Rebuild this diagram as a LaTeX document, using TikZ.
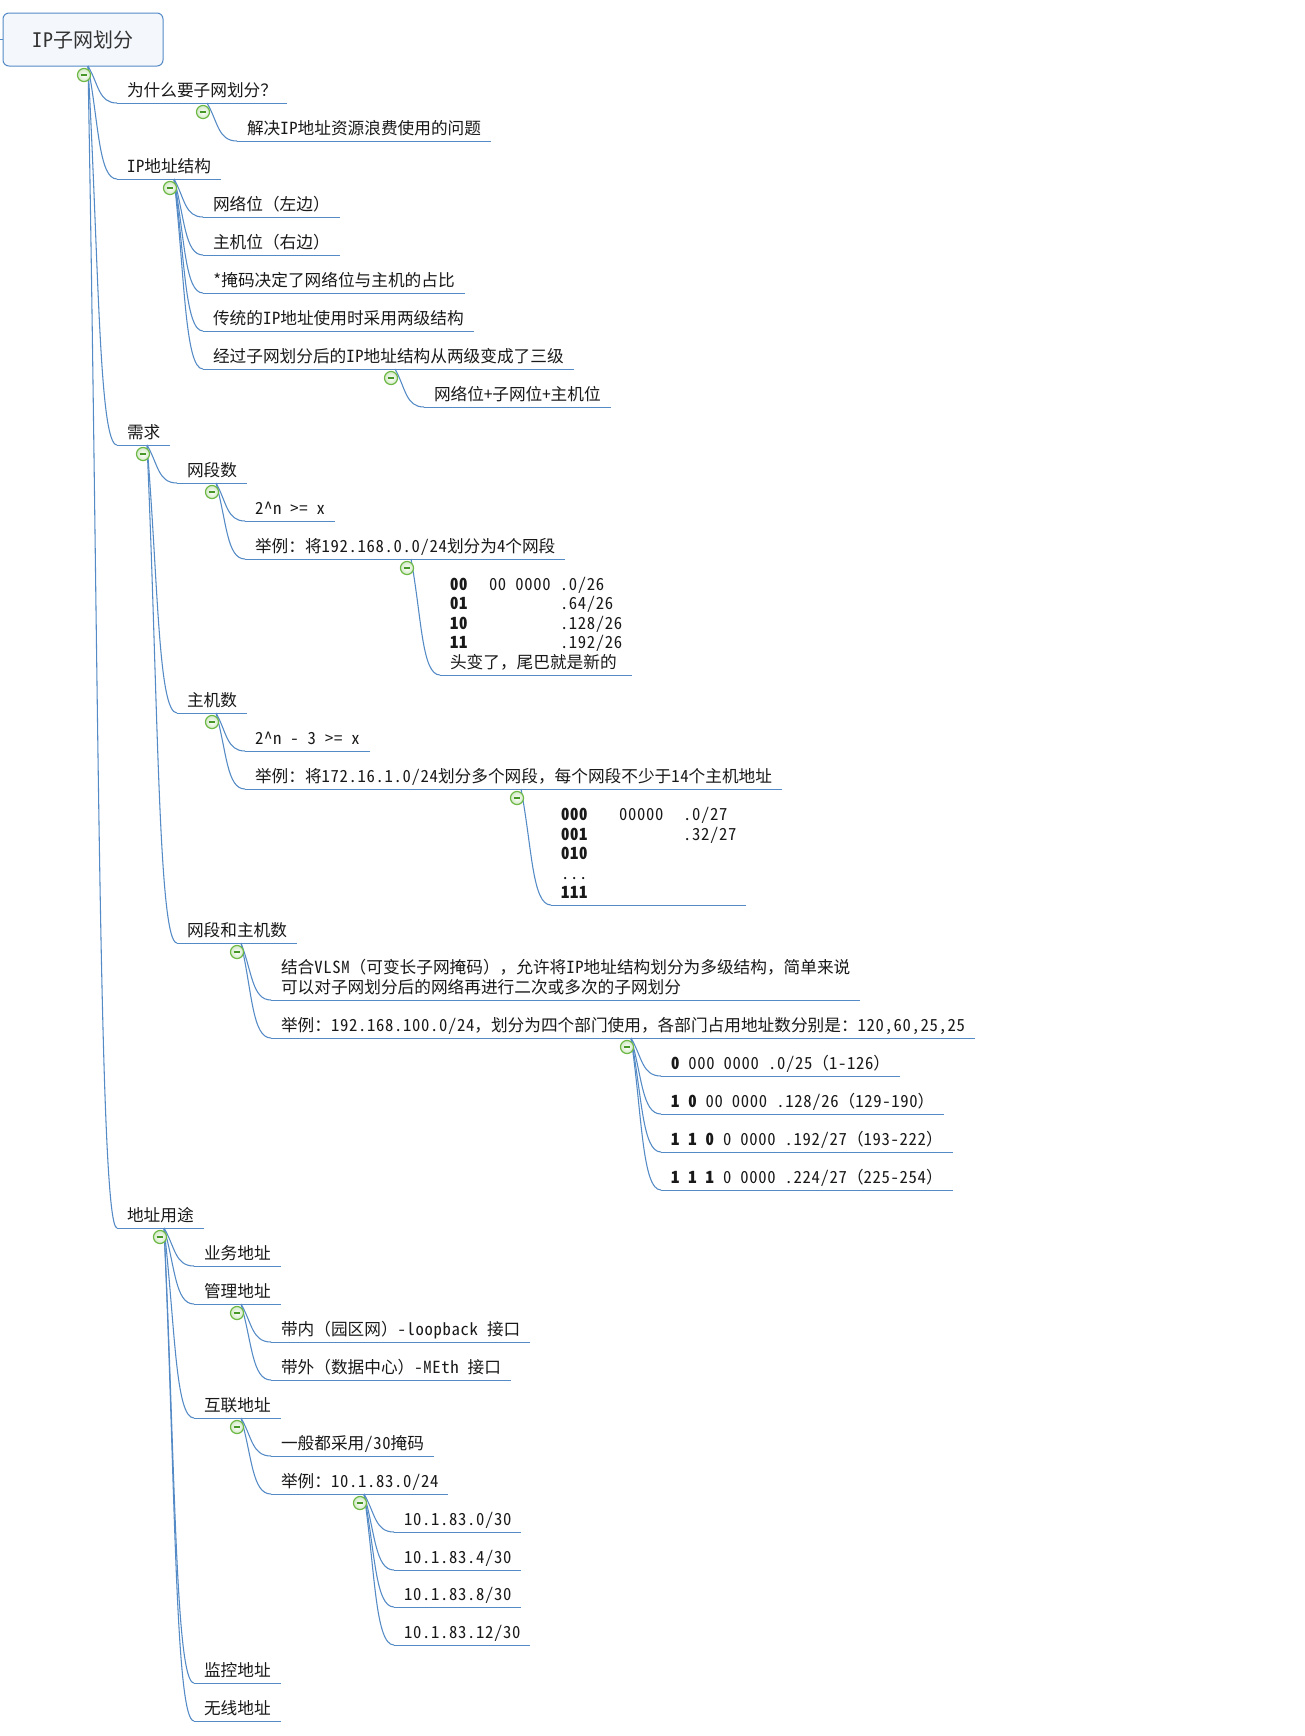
\documentclass[tikz,border=0pt]{standalone}
\usepackage{fontspec}
\setmainfont{Noto Sans CJK SC}[RawFeature=+hwid,LetterSpace=4]
\newfontfamily\latf{Noto Sans CJK SC}[RawFeature=+hwid,LetterSpace=4]
\newfontfamily\cjkf{Noto Sans CJK SC}
\XeTeXinterchartokenstate=1
\newXeTeXintercharclass\cjkcls
\newcount\cjkc
\def\setcjkrange#1#2{\cjkc=#1 \loop\XeTeXcharclass\cjkc=\cjkcls \ifnum\cjkc<#2 \advance\cjkc by 1 \repeat}
\setcjkrange{"3000}{"303F}
\setcjkrange{"4E00}{"9FFF}
\setcjkrange{"FF00}{"FFEF}
\XeTeXinterchartoks 0 \cjkcls = {\cjkf}
\XeTeXinterchartoks 4095 \cjkcls = {\cjkf}
\XeTeXinterchartoks \cjkcls 0 = {\latf}
\XeTeXinterchartoks 4095 0 = {\latf}
\newcommand\hs{\hspace{6.75pt}}
\usetikzlibrary{calc}
\definecolor{lnblue}{RGB}{84,138,198}
\definecolor{ringg}{RGB}{110,185,70}
\definecolor{ming}{RGB}{70,150,40}
\definecolor{rootfill}{RGB}{244,248,253}
\definecolor{txt}{RGB}{25,25,25}
\newcommand\mmnode[4]{%
  \node[tnode] (#1) at ({#2},{#3-6.5}) {#4};
  \coordinate (#1-l) at ({#2},{#3});
  \draw[uline] (#1-l) -- (#1-l -| #1.east);
}
\newcommand\mmconn[2]{%
  \draw[conn] let \p1=(#1), \p2=(#2) in
    (\p1) .. controls ({\x1+0.37*(\x2-\x1)},{0.5*(\y1+\y2)}) and ({\x1+0.37*(\x2-\x1)},\y2) .. (\p2);
}
\newcommand\mmbtn[1]{%
  \coordinate (btn) at ($(#1)+(-4,9)$);
  \draw[cring] (btn) circle (4.9pt);
  \draw[cminus] ($(btn)+(-3.4,0)$) -- ($(btn)+(3.4,0)$);
}
\begin{document}
\begin{tikzpicture}[x=0.75pt,y=-0.75pt,
  tnode/.style={anchor=base west,inner xsep=7.5pt,inner ysep=0pt,outer sep=0pt,text=txt,font=\fontsize{12.5pt}{14.6pt}\selectfont},
  uline/.style={draw=lnblue,line width=0.75pt},
  conn/.style={draw=lnblue,line width=0.8pt},
  rootbox/.style={draw=lnblue,fill=rootfill,rounded corners=4.5pt,minimum width=120pt,minimum height=39.75pt,inner sep=0pt,line width=0.75pt,font=\fontsize{15pt}{18pt}\selectfont,text=black!80},
  cring/.style={draw=ringg,line width=0.9pt,inner color=white,outer color=ringg!30},
  cminus/.style={draw=ming,line width=0.9pt}
]
\fill[white] (0,0) rectangle (1304,1736);
\useasboundingbox (0,0) rectangle (1304,1736);

\node[rootbox] (root) at (83,39.5) {IP子网划分};
\coordinate (lstub) at (0,39.5);
\draw[conn] (lstub) -- (root.west);
\coordinate (o-root) at (88,66);

\mmnode{why}{117}{103}{为什么要子网划分？}
\mmnode{why1}{237}{141}{解决IP地址资源浪费使用的问题}
\mmnode{ips}{117}{179}{IP地址结构}
\mmnode{ips1}{203}{217}{网络位（左边）}
\mmnode{ips2}{203}{255}{主机位（右边）}
\mmnode{ips3}{203}{293}{*掩码决定了网络位与主机的占比}
\mmnode{ips4}{203}{331}{传统的IP地址使用时采用两级结构}
\mmnode{ips5}{203}{369}{经过子网划分后的IP地址结构从两级变成了三级}
\mmnode{ips51}{424}{407}{网络位+子网位+主机位}
\mmnode{req}{117}{445}{需求}
\mmnode{seg}{177}{483}{网段数}
\mmnode{seg1}{245}{521}{2\textasciicircum n\hs>=\hs x}
\mmnode{seg2}{245}{559}{举例：将192.168.0.0/24划分为4个网段}
\mmnode{seg21}{440}{675}{\begin{tabular}[b]{@{}l@{}}
\makebox[29.25pt][l]{\bfseries 00}\makebox[53.25pt][l]{00\hs 0000}.0/26\\
\makebox[29.25pt][l]{\bfseries 01}\makebox[53.25pt][l]{}.64/26\\
\makebox[29.25pt][l]{\bfseries 10}\makebox[53.25pt][l]{}.128/26\\
\makebox[29.25pt][l]{\bfseries 11}\makebox[53.25pt][l]{}.192/26\\
头变了，尾巴就是新的
\end{tabular}}
\mmnode{host}{177}{713}{主机数}
\mmnode{host1}{245}{751}{2\textasciicircum n\hs-\hs 3\hs>=\hs x}
\mmnode{host2}{245}{789}{举例：将172.16.1.0/24划分多个网段，每个网段不少于14个主机地址}
\mmnode{host21}{551}{905}{\begin{tabular}[b]{@{}l@{}}
\makebox[43.5pt][l]{\bfseries 000}\makebox[48pt][l]{00000}.0/27\\
\makebox[43.5pt][l]{\bfseries 001}\makebox[48pt][l]{}.32/27\\
{\bfseries 010}\\
...\\
{\bfseries 111}
\end{tabular}}
\mmnode{both}{177}{943}{网段和主机数}
\mmnode{both1}{271}{1000}{\begin{tabular}[b]{@{}l@{}}
结合VLSM（可变长子网掩码），允许将IP地址结构划分为多级结构，简单来说\\
可以对子网划分后的网络再进行二次或多次的子网划分
\end{tabular}}
\mmnode{both2}{271}{1038}{举例：192.168.100.0/24，划分为四个部门使用，各部门占用地址数分别是：120,60,25,25}
\mmnode{v1}{661}{1076}{{\bfseries 0}\hs 000\hs 0000\hs .0/25（1-126）}
\mmnode{v2}{661}{1114}{{\bfseries 1\hs 0}\hs 00\hs 0000\hs .128/26（129-190）}
\mmnode{v3}{661}{1152}{{\bfseries 1\hs 1\hs 0}\hs 0\hs 0000\hs .192/27（193-222）}
\mmnode{v4}{661}{1190}{{\bfseries 1\hs 1\hs 1}\hs 0\hs 0000\hs .224/27（225-254）}
\mmnode{use}{117}{1228}{地址用途}
\mmnode{use1}{194}{1266}{业务地址}
\mmnode{use2}{194}{1304}{管理地址}
\mmnode{use21}{271}{1342}{带内（园区网）-loopback\hs 接口}
\mmnode{use22}{271}{1380}{带外（数据中心）-MEth\hs 接口}
\mmnode{use3}{194}{1418}{互联地址}
\mmnode{use31}{271}{1456}{一般都采用/30掩码}
\mmnode{use32}{271}{1494}{举例：10.1.83.0/24}
\mmnode{n1}{394}{1532}{10.1.83.0/30}
\mmnode{n2}{394}{1570}{10.1.83.4/30}
\mmnode{n3}{394}{1607}{10.1.83.8/30}
\mmnode{n4}{394}{1645}{10.1.83.12/30}
\mmnode{use4}{194}{1683}{监控地址}
\mmnode{use5}{194}{1721}{无线地址}

\coordinate (o-why) at (207,103);
\coordinate (o-ips) at (174,179);
\coordinate (o-ips5) at (395,369);
\coordinate (o-req) at (147,445);
\coordinate (o-seg) at (216,483);
\coordinate (o-seg2) at (411,559);
\coordinate (o-host) at (216,713);
\coordinate (o-host2) at (521,789);
\coordinate (o-both) at (241,943);
\coordinate (o-both2) at (631,1038);
\coordinate (o-use) at (164,1228);
\coordinate (o-use2) at (241,1304);
\coordinate (o-use3) at (241,1418);
\coordinate (o-use32) at (364,1494);

\foreach \a/\b in {o-root/why,o-root/ips,o-root/req,o-root/use,
  o-why/why1,
  o-ips/ips1,o-ips/ips2,o-ips/ips3,o-ips/ips4,o-ips/ips5,
  o-ips5/ips51,
  o-req/seg,o-req/host,o-req/both,
  o-seg/seg1,o-seg/seg2,o-seg2/seg21,
  o-host/host1,o-host/host2,o-host2/host21,
  o-both/both1,o-both/both2,
  o-both2/v1,o-both2/v2,o-both2/v3,o-both2/v4,
  o-use/use1,o-use/use2,o-use/use3,o-use/use4,o-use/use5,
  o-use2/use21,o-use2/use22,
  o-use3/use31,o-use3/use32,
  o-use32/n1,o-use32/n2,o-use32/n3,o-use32/n4}
  {\mmconn{\a}{\b-l}}

\foreach \a in {o-root,o-why,o-ips,o-ips5,o-req,o-seg,o-seg2,o-host,o-host2,o-both,o-both2,o-use,o-use2,o-use3,o-use32}
  {\mmbtn{\a}}
\end{tikzpicture}
\end{document}
